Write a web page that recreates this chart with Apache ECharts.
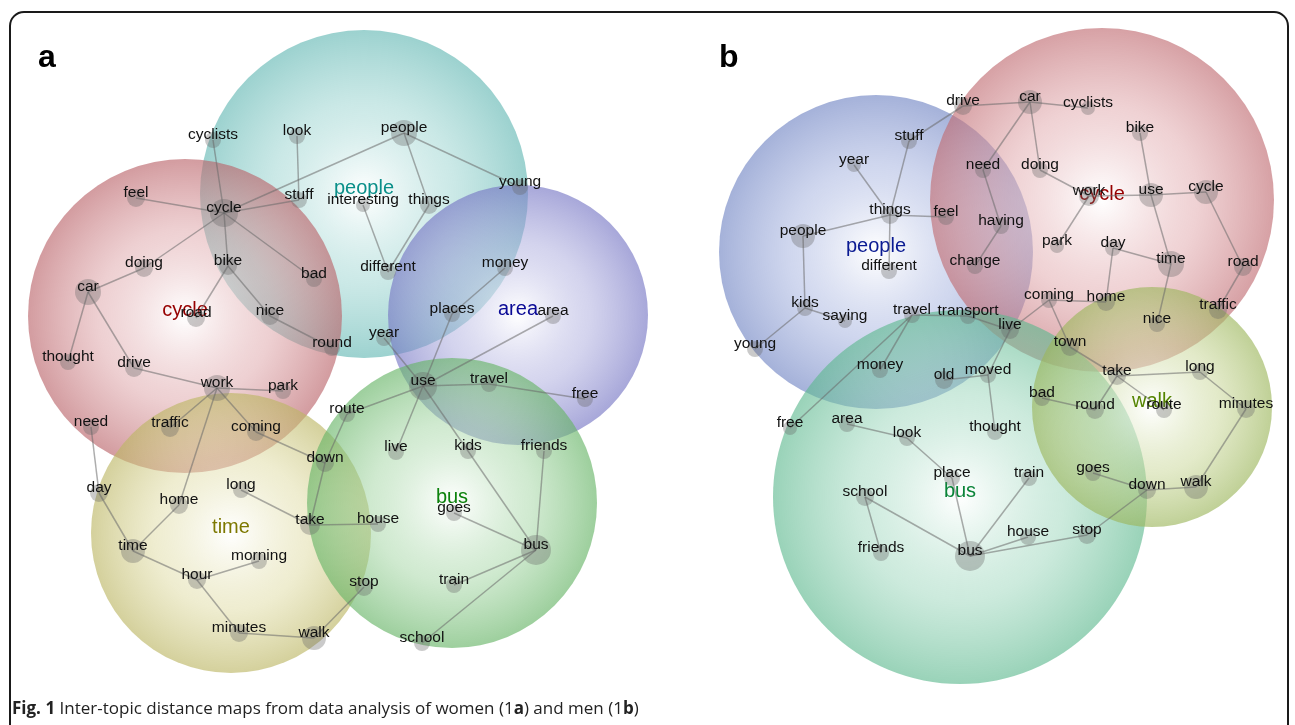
<!DOCTYPE html>
<html>
<head>
<meta charset="utf-8">
<script src="https://cdn.jsdelivr.net/npm/echarts@6/dist/echarts.min.js"></script>
<style>
  html, body { margin: 0; padding: 0; background: #fff; }
  #main { width: 1295px; height: 725px; }
</style>
</head>
<body>
<div id="main"></div>
<script>
// 主题圆 (name, x, y, radius) —— 地图坐标
var topicsA = [
  ['people', 364, 194, 164],
  ['cycle', 185, 316, 157],
  ['area', 518, 315, 130],
  ['time', 231, 533, 140],
  ['bus', 452, 503, 145]
];
var topicsB = [
  ['people', 876, 252, 157],
  ['cycle', 1102, 200, 172],
  ['bus', 960, 497, 187],
  ['walk', 1152, 407, 120]
];

// 词节点 (name, x, y, weight)
var wordsA = [
  ['cyclists', 213, 140, 16], ['look', 297, 136, 16], ['people', 404, 133, 26],
  ['young', 520, 187, 16], ['feel', 136, 198, 18], ['cycle', 224, 213, 28],
  ['stuff', 299, 200, 16], ['interesting', 363, 205, 14], ['things', 429, 205, 18],
  ['doing', 144, 268, 18], ['bike', 228, 266, 18], ['bad', 314, 279, 16],
  ['money', 505, 268, 16], ['car', 88, 292, 26], ['road', 196, 318, 18],
  ['nice', 270, 316, 18], ['places', 452, 314, 16], ['area', 553, 316, 16],
  ['round', 332, 348, 16], ['different', 388, 272, 16], ['year', 384, 338, 16],
  ['thought', 68, 362, 16], ['drive', 134, 368, 18], ['work', 217, 388, 26],
  ['park', 283, 391, 16], ['use', 423, 386, 28], ['travel', 489, 384, 16],
  ['free', 585, 399, 16], ['route', 347, 414, 16], ['need', 91, 427, 16],
  ['traffic', 170, 428, 18], ['coming', 256, 432, 18], ['live', 396, 452, 16],
  ['kids', 468, 451, 16], ['friends', 544, 451, 16], ['down', 325, 463, 18],
  ['day', 99, 493, 18], ['home', 179, 505, 18], ['long', 241, 490, 16],
  ['take', 310, 525, 20], ['house', 378, 524, 16], ['goes', 454, 513, 16],
  ['time', 133, 551, 24], ['morning', 259, 561, 16], ['bus', 536, 550, 30],
  ['hour', 197, 580, 18], ['stop', 364, 587, 18], ['train', 454, 585, 16],
  ['minutes', 239, 633, 18], ['walk', 314, 638, 24], ['school', 422, 643, 16]
];
var wordsB = [
  ['drive', 963, 106, 18], ['car', 1030, 102, 24], ['cyclists', 1088, 108, 14],
  ['stuff', 909, 141, 16], ['bike', 1140, 133, 16], ['year', 854, 165, 14],
  ['need', 983, 170, 16], ['doing', 1040, 170, 16], ['things', 890, 215, 18],
  ['feel', 946, 217, 16], ['work', 1089, 196, 20], ['use', 1151, 195, 24],
  ['cycle', 1206, 192, 24], ['having', 1001, 226, 16], ['people', 803, 236, 24],
  ['park', 1057, 246, 14], ['day', 1113, 248, 16], ['time', 1171, 264, 26],
  ['road', 1243, 267, 18], ['change', 975, 266, 16], ['different', 889, 271, 16],
  ['coming', 1049, 300, 16], ['home', 1106, 302, 18], ['traffic', 1218, 310, 18],
  ['kids', 805, 308, 16], ['saying', 845, 321, 14], ['travel', 912, 315, 16],
  ['transport', 968, 316, 16], ['nice', 1157, 324, 16], ['live', 1010, 330, 18],
  ['town', 1070, 347, 18], ['young', 755, 349, 16], ['money', 880, 370, 16],
  ['take', 1117, 376, 18], ['long', 1200, 372, 16], ['old', 944, 380, 18],
  ['moved', 988, 375, 16], ['bad', 1042, 398, 16], ['round', 1095, 410, 18],
  ['route', 1164, 410, 16], ['minutes', 1246, 409, 18], ['free', 790, 428, 14],
  ['area', 847, 424, 16], ['look', 907, 438, 16], ['thought', 995, 432, 16],
  ['goes', 1093, 473, 16], ['place', 952, 478, 16], ['train', 1029, 478, 16],
  ['down', 1147, 490, 18], ['walk', 1196, 487, 24], ['school', 865, 497, 18],
  ['house', 1028, 537, 16], ['stop', 1087, 535, 18], ['friends', 881, 553, 16],
  ['bus', 970, 556, 30]
];

// 连线
var linksA = [
  ['cyclists', 'cycle'], ['feel', 'cycle'], ['cycle', 'stuff'], ['look', 'stuff'],
  ['cycle', 'people'], ['cycle', 'bike'], ['cycle', 'bad'], ['cycle', 'doing'],
  ['car', 'doing'], ['car', 'thought'], ['car', 'drive'], ['bike', 'road'],
  ['bike', 'nice'], ['nice', 'round'], ['drive', 'work'], ['work', 'park'],
  ['work', 'traffic'], ['work', 'coming'], ['work', 'home'], ['need', 'day'],
  ['day', 'time'], ['time', 'home'], ['time', 'hour'], ['hour', 'morning'],
  ['hour', 'minutes'], ['minutes', 'walk'], ['walk', 'stop'], ['long', 'take'],
  ['take', 'house'], ['take', 'down'], ['coming', 'down'], ['route', 'down'],
  ['route', 'use'], ['people', 'young'], ['people', 'things'], ['things', 'different'],
  ['interesting', 'different'], ['year', 'use'], ['use', 'kids'], ['use', 'places'],
  ['places', 'money'], ['use', 'area'], ['use', 'travel'], ['travel', 'free'],
  ['use', 'live'], ['kids', 'bus'], ['friends', 'bus'], ['goes', 'bus'],
  ['train', 'bus'], ['school', 'bus']
];
var linksB = [
  ['drive', 'car'], ['drive', 'stuff'], ['stuff', 'things'], ['year', 'things'],
  ['things', 'people'], ['things', 'feel'], ['things', 'different'], ['people', 'kids'],
  ['kids', 'saying'], ['kids', 'young'], ['car', 'cyclists'], ['car', 'need'],
  ['car', 'doing'], ['need', 'having'], ['having', 'change'], ['doing', 'work'],
  ['work', 'use'], ['work', 'park'], ['use', 'bike'], ['use', 'cycle'],
  ['use', 'time'], ['cycle', 'road'], ['road', 'traffic'], ['time', 'day'],
  ['time', 'nice'], ['day', 'home'], ['home', 'coming'], ['coming', 'town'],
  ['coming', 'live'], ['town', 'take'], ['travel', 'transport'], ['travel', 'money'],
  ['travel', 'free'], ['transport', 'live'], ['live', 'moved'], ['old', 'moved'],
  ['moved', 'thought'], ['take', 'long'], ['take', 'round'], ['take', 'route'],
  ['long', 'minutes'], ['minutes', 'walk'], ['bad', 'round'], ['area', 'look'],
  ['look', 'place'], ['place', 'bus'], ['train', 'bus'], ['house', 'bus'],
  ['stop', 'bus'], ['stop', 'down'], ['goes', 'down'], ['down', 'walk'],
  ['school', 'bus'], ['school', 'friends']
];

(function () {
  var myChart = echarts.init(document.getElementById('main'));
  var FONT = '"Liberation Sans", Arial, sans-serif';

  // 主题颜色: [中间颜色, 边缘颜色, 文字颜色]
  var topicStyleA = {
    people: ['rgba(150,210,206,0.62)', 'rgba(100,184,180,0.80)', '#0a8f89'],
    cycle: ['rgba(220,160,164,0.62)', 'rgba(186,100,106,0.80)', '#960000'],
    area: ['rgba(168,168,220,0.62)', 'rgba(118,118,196,0.80)', '#0a0a96'],
    time: ['rgba(222,218,160,0.62)', 'rgba(188,182,100,0.80)', '#7d7800'],
    bus: ['rgba(160,212,160,0.62)', 'rgba(102,180,102,0.80)', '#0c820c']
  };
  var topicStyleB = {
    people: ['rgba(162,176,222,0.64)', 'rgba(114,134,196,0.80)', '#0a1a92'],
    cycle: ['rgba(224,166,170,0.64)', 'rgba(192,108,114,0.80)', '#960000'],
    bus: ['rgba(150,212,184,0.60)', 'rgba(92,184,142,0.78)', '#0a8438'],
    walk: ['rgba(200,214,150,0.64)', 'rgba(156,182,92,0.80)', '#548400']
  };

  function topicData(list, style) {
    return list.map(function (t) {
      var s = style[t[0]];
      return {
        name: t[0],
        value: [t[1], t[2]],
        symbolSize: t[3] * 2,
        itemStyle: {
          color: new echarts.graphic.RadialGradient(0.5, 0.5, 0.5, [
            { offset: 0, color: 'rgba(255,255,255,0.85)' },
            { offset: 0.55, color: s[0] },
            { offset: 1, color: s[1] }
          ])
        }
      };
    });
  }

  function topicSeries(list, style) {
    return {
      type: 'scatter',
      z: 1,
      silent: true,
      data: topicData(list, style)
    };
  }

  // 主题名称，放在圆上方一层
  function topicLabelSeries(list, style) {
    return {
      type: 'scatter',
      z: 2,
      silent: true,
      symbolSize: 0.01,
      itemStyle: { color: '#ffffff', opacity: 1 },
      data: list.map(function (t) {
        return {
          name: t[0],
          value: [t[1], t[2]],
          label: { color: style[t[0]][2] }
        };
      }),
      label: {
        show: true,
        position: 'inside',
        formatter: '{b}',
        fontSize: 20,
        fontFamily: FONT,
        opacity: 1,
        offset: [0, -6]
      }
    };
  }

  function graphSeries(words, links) {
    return {
      type: 'graph',
      coordinateSystem: 'cartesian2d',
      z: 3,
      silent: true,
      data: words.map(function (w) {
        return { name: w[0], value: [w[1], w[2]], symbolSize: w[3] };
      }),
      links: links.map(function (l) {
        return { source: l[0], target: l[1] };
      }),
      itemStyle: { color: 'rgba(100,100,100,0.34)' },
      lineStyle: { color: 'rgba(105,105,105,0.55)', width: 1.5, opacity: 1 },
      label: {
        show: true,
        position: 'inside',
        color: '#111',
        fontSize: 15.5,
        fontFamily: FONT,
        offset: [0, -5]
      }
    };
  }

  var option = {
    animation: false,
    grid: { left: 0, right: 0, top: 0, bottom: 0 },
    xAxis: { type: 'value', min: 0, max: 1295, show: false },
    yAxis: { type: 'value', min: 0, max: 725, inverse: true, show: false },
    graphic: [
      {
        type: 'rect',
        shape: { x: 10, y: 12, width: 1278, height: 760, r: 14 },
        style: { fill: 'none', stroke: '#1a1a1a', lineWidth: 2 },
        z: 0
      },
      {
        type: 'text', left: 38, top: 42,
        style: { text: 'a', font: 'bold 32px "Liberation Sans", Arial, sans-serif', fill: '#000' }
      },
      {
        type: 'text', left: 719, top: 42,
        style: { text: 'b', font: 'bold 32px "Liberation Sans", Arial, sans-serif', fill: '#000' }
      },
      {
        type: 'text', left: 12, top: 701,
        style: {
          text: '{b|Fig. 1} Inter-topic distance maps from data analysis of women (1{b|a}) and men (1{b|b})',
          font: '17px "Open Sans", sans-serif',
          fill: '#222',
          rich: {
            b: { fontWeight: 'bold', fontSize: 17, fontFamily: 'Open Sans', fill: '#222' }
          }
        }
      }
    ],
    series: [
      topicSeries(topicsA, topicStyleA),
      topicSeries(topicsB, topicStyleB),
      topicLabelSeries(topicsA, topicStyleA),
      topicLabelSeries(topicsB, topicStyleB),
      graphSeries(wordsA, linksA),
      graphSeries(wordsB, linksB)
    ]
  };

  if (option && typeof option === 'object') {
    myChart.setOption(option);
  }
  window.addEventListener('resize', myChart.resize);
})();
</script>
</body>
</html>
